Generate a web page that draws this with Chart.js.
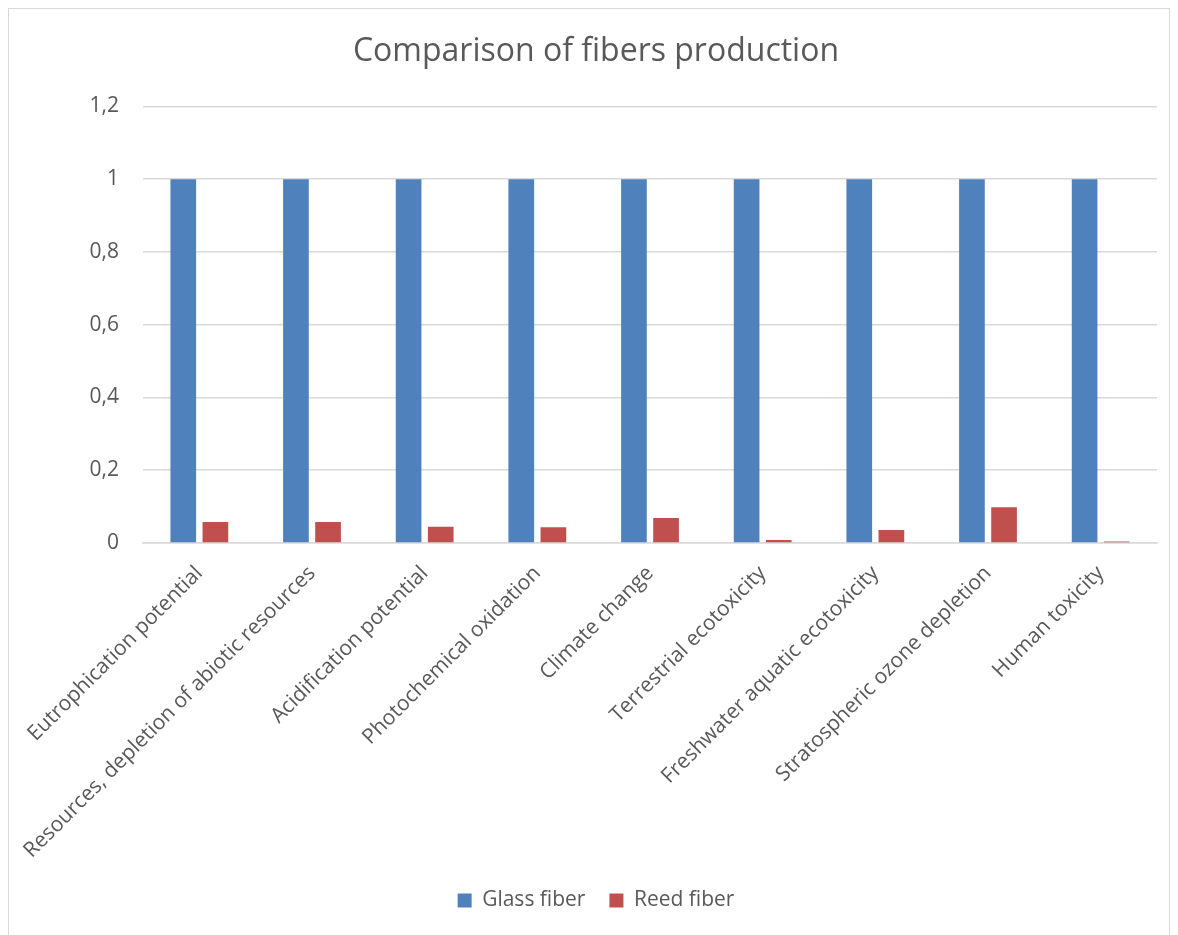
<!DOCTYPE html>
<html>
<head>
<meta charset="utf-8">
<script src="https://cdn.jsdelivr.net/npm/chart.js@4.4.1/dist/chart.umd.min.js"></script>
<style>
  html, body { margin: 0; padding: 0; background: #fff; overflow: hidden; }
  #frame {
    position: absolute; left: 8px; top: 8px;
    width: 1162px; height: 940px;
    border: 1px solid #d9d9d9; box-sizing: border-box;
  }
  #chart { display: block; }
</style>
</head>
<body>
<div id="frame"><canvas id="chart" width="1160" height="938"></canvas></div>
<script>
const categories = [
  "Eutrophication potential",
  "Resources, depletion of abiotic resources",
  "Acidification potential",
  "Photochemical oxidation",
  "Climate change",
  "Terrestrial ecotoxicity",
  "Freshwater aquatic ecotoxicity",
  "Stratospheric ozone depletion",
  "Human toxicity"
];
const glassFiber = [1, 1, 1, 1, 1, 1, 1, 1, 1];
const reedFiber = [0.058, 0.058, 0.045, 0.043, 0.069, 0.008, 0.036, 0.098, 0.004];
const yTicks = [0, 0.2, 0.4, 0.6, 0.8, 1, 1.2];

const textColor = "#595959";
const fontFamily = "'Open Sans', sans-serif";

new Chart(document.getElementById("chart"), {
  type: "bar",
  data: {
    labels: categories,
    datasets: [
      { label: "Glass fiber", data: glassFiber, backgroundColor: "#4f81bd",
        categoryPercentage: 0.57, barPercentage: 0.8 },
      { label: "Reed fiber", data: reedFiber, backgroundColor: "#c0504d",
        categoryPercentage: 0.57, barPercentage: 0.8 }
    ]
  },
  options: {
    responsive: false,
    animation: false,
    layout: { padding: { left: 26, right: 12, top: 10, bottom: 26 } },
    plugins: {
      title: {
        display: true,
        text: "Comparison of fibers production",
        color: textColor,
        font: { family: fontFamily, size: 32, weight: "normal" },
        padding: { top: 14, bottom: 35 }
      },
      legend: {
        position: "bottom",
        labels: {
          color: textColor,
          font: { family: fontFamily, size: 21 },
          boxWidth: 14, boxHeight: 14, padding: 24
        }
      },
      tooltip: { enabled: false }
    },
    scales: {
      x: {
        grid: { display: false, drawTicks: false },
        border: { color: "#d9d9d9", width: 1.5 },
        afterFit: (axis) => { axis.height = 323; axis.paddingLeft = 0; },
        ticks: {
          color: textColor,
          font: { family: fontFamily, size: 21 },
          maxRotation: 45, minRotation: 45, autoSkip: false, padding: 18
        }
      },
      y: {
        min: 0, max: 1.2,
        afterBuildTicks: (axis) => { axis.ticks = yTicks.map(v => ({ value: v })); },
        afterFit: (axis) => { axis.width = 108; },
        grid: { color: "#d9d9d9", lineWidth: 1.5, drawTicks: false },
        border: { display: false },
        ticks: {
          color: textColor,
          font: { family: fontFamily, size: 21 },
          padding: 24,
          callback: (v) => String(Math.round(v * 10) / 10).replace(".", ",")
        }
      }
    }
  }
});
</script>
</body>
</html>
